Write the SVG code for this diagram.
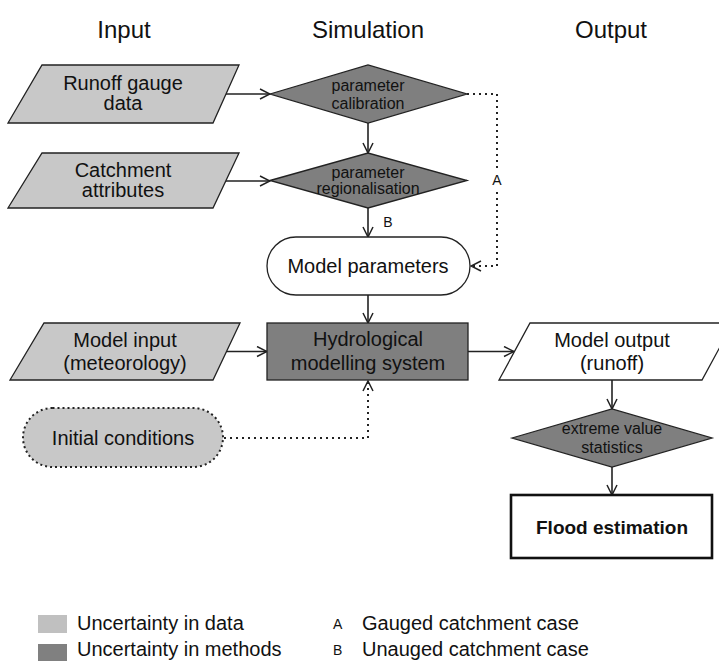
<svg xmlns="http://www.w3.org/2000/svg" width="719" height="661" viewBox="0 0 719 661">
<defs>
<style>
text{font-family:"Liberation Sans",Arial,sans-serif;fill:#111;text-anchor:middle}
.h{font-size:24px}
.t{font-size:20px}
.s{font-size:16px}
.lbl{font-size:14px}
.lt{fill:#c8c8c8;stroke:#222;stroke-width:1.3}
.dk{fill:#7f7f7f;stroke:#222;stroke-width:1.3}
.wh{fill:#fff;stroke:#222;stroke-width:1.3}
.c{fill:none;stroke:#222;stroke-width:1.6}
.d{fill:none;stroke:#222;stroke-width:2;stroke-dasharray:2 4}
.lg{text-anchor:start}
</style>
<marker id="ar" viewBox="0 0 12 12" refX="11" refY="6" markerWidth="12" markerHeight="12" markerUnits="userSpaceOnUse" orient="auto">
<path d="M1,1 L11,6 L1,11" fill="none" stroke="#222" stroke-width="1.5"/>
</marker>
</defs>
<rect width="719" height="661" fill="#fff"/>
<g id="headers">
<text class="h" x="124" y="38">Input</text>
<text class="h" x="368" y="38">Simulation</text>
<text class="h" x="611" y="38">Output</text>
</g>
<g id="connectors">
<line class="c" x1="226" y1="94" x2="270" y2="94" marker-end="url(#ar)"/>
<line class="c" x1="368" y1="123" x2="368" y2="153" marker-end="url(#ar)"/>
<line class="c" x1="226" y1="181" x2="270" y2="181" marker-end="url(#ar)"/>
<line class="c" x1="368" y1="208" x2="368" y2="237" marker-end="url(#ar)"/>
<text class="lbl" x="388" y="227">B</text>
<polyline class="d" points="467,94 497,94 497,170"/>
<polyline class="d" points="497,192 497,266 471,266" marker-end="url(#ar)"/>
<text class="lbl" x="497" y="185">A</text>
<line class="c" x1="368" y1="295" x2="368" y2="323" marker-end="url(#ar)"/>
<line class="c" x1="226" y1="351.5" x2="267" y2="351.5" marker-end="url(#ar)"/>
<line class="c" x1="468" y1="351.5" x2="514" y2="351.5" marker-end="url(#ar)"/>
<polyline class="d" points="224,438 368,438 368,381" marker-end="url(#ar)"/>
<line class="c" x1="612" y1="380" x2="612" y2="409" marker-end="url(#ar)"/>
<line class="c" x1="612" y1="467" x2="612" y2="495" marker-end="url(#ar)"/>
</g>
<g id="runoff-gauge-data">
<polygon class="lt" points="42,65 239,65 213,123 8,123"/>
<text class="t" x="123" y="90">Runoff gauge</text>
<text class="t" x="123" y="110">data</text>
</g>
<g id="parameter-calibration">
<polygon class="dk" points="270,94 368,65 467,94 368,123"/>
<text class="s" x="368" y="91">parameter</text>
<text class="s" x="368" y="109">calibration</text>
</g>
<g id="catchment-attributes">
<polygon class="lt" points="42,153 239,153 213,208 8,208"/>
<text class="t" x="123" y="177">Catchment</text>
<text class="t" x="123" y="197">attributes</text>
</g>
<g id="parameter-regionalisation">
<polygon class="dk" points="270,180.5 368,153 467,180.5 368,208"/>
<text class="s" x="368" y="178">parameter</text>
<text class="s" x="368" y="194">regionalisation</text>
</g>
<g id="model-parameters">
<rect class="wh" x="267" y="237" width="203" height="58" rx="29"/>
<text class="t" x="368" y="273">Model parameters</text>
</g>
<g id="model-input">
<polygon class="lt" points="44,323 240,323 213,380 10,380"/>
<text class="t" x="125" y="347">Model input</text>
<text class="t" x="125" y="370">(meteorology)</text>
</g>
<g id="hydrological-modelling-system">
<rect class="dk" x="267" y="323" width="201" height="57"/>
<text class="t" x="368" y="346">Hydrological</text>
<text class="t" x="368" y="370">modelling system</text>
</g>
<g id="model-output">
<polygon class="wh" points="530,323 733,323 702,380 499,380"/>
<text class="t" x="612" y="347">Model output</text>
<text class="t" x="612" y="370">(runoff)</text>
</g>
<g id="initial-conditions">
<rect x="23" y="408" width="200" height="59" rx="29.5" fill="#c8c8c8" stroke="#222" stroke-width="2" stroke-dasharray="2 3"/>
<text class="t" x="123" y="445">Initial conditions</text>
</g>
<g id="extreme-value-statistics">
<polygon class="dk" points="512,438 612,409 712,438 612,467"/>
<text class="s" x="612" y="434">extreme value</text>
<text class="s" x="612" y="453">statistics</text>
</g>
<g id="flood-estimation">
<rect x="511" y="495" width="201" height="63" fill="#fff" stroke="#111" stroke-width="2.6"/>
<text x="612" y="534" style="font-size:19px;font-weight:bold">Flood estimation</text>
</g>
<g id="legend">
<rect x="38" y="615" width="29" height="18" fill="#c0c0c0"/>
<rect x="38" y="644" width="29" height="17" fill="#808080"/>
<text class="t lg" x="77" y="630">Uncertainty in data</text>
<text class="t lg" x="77" y="656">Uncertainty in methods</text>
<text class="lbl lg" x="333" y="629">A</text>
<text class="lbl lg" x="333" y="655">B</text>
<text class="t lg" x="362" y="630">Gauged catchment case</text>
<text class="t lg" x="362" y="656">Unauged catchment case</text>
</g>
</svg>
